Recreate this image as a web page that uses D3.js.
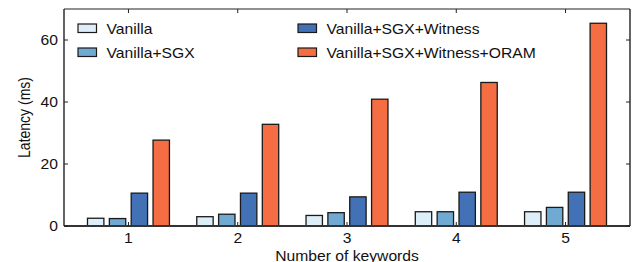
<!DOCTYPE html>
<html>
<head>
<meta charset="utf-8">
<script src="https://cdn.jsdelivr.net/npm/d3@7"></script>
<style>
  body { margin: 0; background: #fff; }
  text { font-family: "Liberation Sans", Arial, sans-serif; fill: #111; }
</style>
</head>
<body>
<div id="my_dataviz"></div>
<script>
// data
var keywords = ["1", "2", "3", "4", "5"]
var series = ["Vanilla", "Vanilla+SGX", "Vanilla+SGX+Witness", "Vanilla+SGX+Witness+ORAM"]
var vanilla = [2.5, 3.0, 3.4, 4.6, 4.6]
var sgx = [2.4, 3.8, 4.3, 4.6, 6.0]
var witness = [10.6, 10.6, 9.4, 10.9, 10.9]
var oram = [27.7, 32.8, 40.9, 46.3, 65.4]
var yTicks = [0, 20, 40, 60]

var colors = ["#ddeef8", "#70aad3", "#4271b5", "#f46d43"]
var values = [vanilla, sgx, witness, oram]

// note: "top" is taken by window.top, so use other names
var width = 632,
    height = 262,
    plotLeft = 64, plotRight = 630, plotTop = 9, plotBottom = 226
var sx = 1.12   // the picture's text is a bit stretched sideways

var svg = d3.select("#my_dataviz")
  .append("svg")
    .attr("width", width)
    .attr("height", height)

var x0 = d3.scaleBand()
  .domain(keywords)
  .range([plotLeft, plotRight])
  .paddingInner(0)
  .paddingOuter(0.09)

var inner = x0.bandwidth() * 0.75
var x1 = d3.scaleBand()
  .domain(series)
  .range([0, inner])
  .paddingInner(0.25)

var y = d3.scaleLinear()
  .domain([0, 70])
  .range([plotBottom, plotTop])

// build a flat table for the bars
var rows = []
keywords.forEach(function(k, i) {
  series.forEach(function(s, j) {
    rows.push({ key: k, series: s, value: values[j][i], color: colors[j] })
  })
})

svg.append("g")
  .selectAll("rect")
  .data(rows)
  .enter()
  .append("rect")
    .attr("x", function(d) { return x0(d.key) + (x0.bandwidth() - inner) / 2 + x1(d.series) })
    .attr("y", function(d) { return y(d.value) })
    .attr("width", x1.bandwidth())
    .attr("height", function(d) { return y(0) - y(d.value) })
    .attr("fill", function(d) { return d.color })
    .attr("stroke", "#1a1a1a")
    .style("stroke-width", "1.3px")

// frame with inward ticks
var tl = 4
var axes = svg.append("g").attr("stroke", "#222").attr("fill", "none")
axes.append("line").attr("x1", plotLeft).attr("x2", plotRight).attr("y1", plotTop).attr("y2", plotTop).style("stroke-width", "1.2px")
axes.append("line").attr("x1", plotLeft).attr("x2", plotLeft).attr("y1", plotTop).attr("y2", plotBottom).style("stroke-width", "1.4px")
axes.append("line").attr("x1", plotRight).attr("x2", plotRight).attr("y1", plotTop).attr("y2", plotBottom).style("stroke-width", "1.4px")
axes.append("line").attr("x1", plotLeft).attr("x2", plotRight).attr("y1", plotBottom).attr("y2", plotBottom).style("stroke-width", "2px").attr("stroke", "#333")

keywords.forEach(function(k) {
  var cx = x0(k) + x0.bandwidth() / 2
  axes.append("line").attr("x1", cx).attr("x2", cx).attr("y1", plotTop).attr("y2", plotTop + tl).style("stroke-width", "1px")
  axes.append("line").attr("x1", cx).attr("x2", cx).attr("y1", plotBottom).attr("y2", plotBottom - tl).style("stroke-width", "1px")
  svg.append("text")
    .attr("transform", "translate(" + cx + ",243) scale(" + sx + ",1)")
    .attr("text-anchor", "middle")
    .style("font-size", "14px")
    .text(k)
})

yTicks.forEach(function(t) {
  var ty = y(t)
  axes.append("line").attr("x1", plotLeft).attr("x2", plotLeft + tl).attr("y1", ty).attr("y2", ty).style("stroke-width", "1px")
  axes.append("line").attr("x1", plotRight).attr("x2", plotRight - tl).attr("y1", ty).attr("y2", ty).style("stroke-width", "1px")
  svg.append("text")
    .attr("transform", "translate(58," + ty + ") scale(" + sx + ",1)")
    .attr("text-anchor", "end")
    .attr("dy", "0.36em")
    .style("font-size", "14px")
    .text(t)
})

// axis titles
svg.append("text")
  .attr("transform", "translate(" + (plotLeft + plotRight) / 2 + ",261) scale(" + sx + ",1)")
  .attr("text-anchor", "middle")
  .style("font-size", "14px")
  .text("Number of keywords")

svg.append("text")
  .attr("transform", "translate(30," + (plotTop + plotBottom) / 2 + ") scale(" + sx + ",1) rotate(-90)")
  .attr("text-anchor", "middle")
  .style("font-size", "14px")
  .text("Latency (ms)")

// legend, two columns
var legend = svg.append("g")
series.forEach(function(s, i) {
  var col = Math.floor(i / 2), row = i % 2
  var bx = col === 0 ? 78 : 298
  var by = 24 + row * 24
  legend.append("rect")
    .attr("x", bx).attr("y", by)
    .attr("width", 18.5).attr("height", 8.5)
    .attr("fill", colors[i])
    .attr("stroke", "#1a1a1a")
    .style("stroke-width", "1.2px")
  legend.append("text")
    .attr("transform", "translate(" + (bx + 28.5) + "," + (by + 9.5) + ") scale(" + sx + ",1)")
    .style("font-size", "14px")
    .text(s)
})
</script>
</body>
</html>
